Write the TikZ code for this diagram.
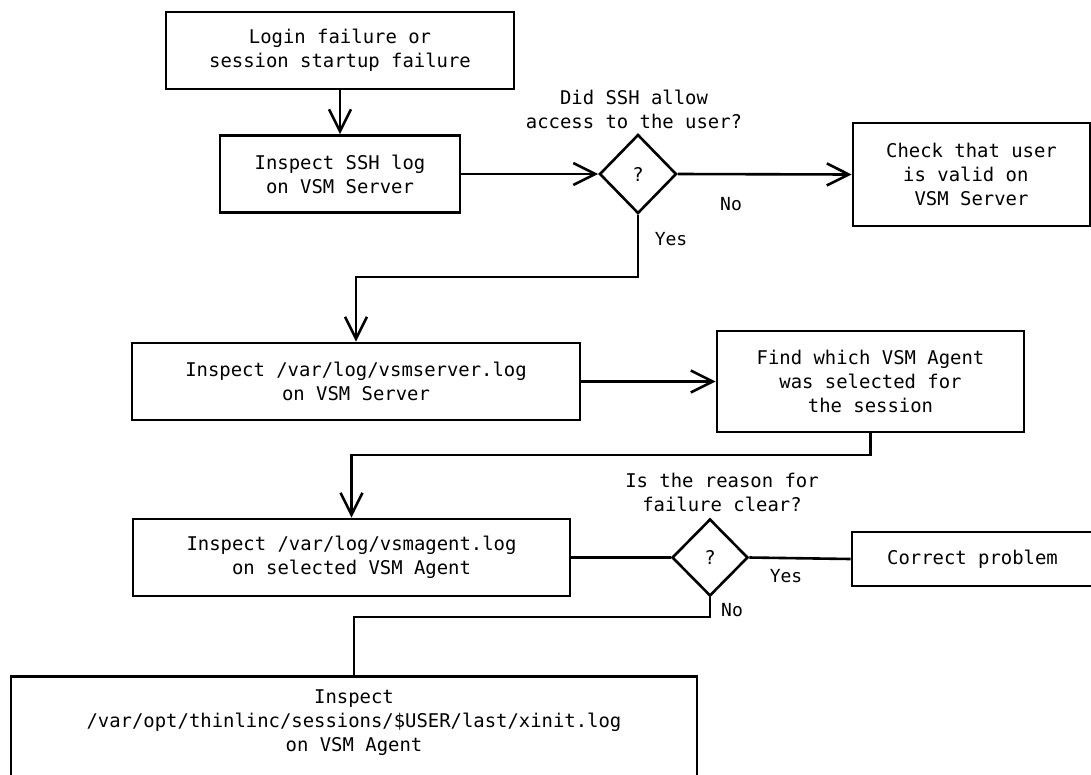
\documentclass[tikz,border=0pt]{standalone}
\usepackage{fontspec}
\setmonofont{DejaVu Sans Mono}
\usetikzlibrary{shapes.geometric,arrows.meta}
\begin{document}
\begin{tikzpicture}[x=1pt,y=-1pt,
  every node/.style={font=\ttfamily\fontsize{18.9}{24}\selectfont},
  box/.style={draw, line width=2.6pt, rectangle, inner sep=0pt, align=center},
  dia/.style={draw, line width=2.6pt, diamond, inner sep=0pt, minimum width=77pt, minimum height=79pt},
  conn/.style={line width=2.6pt},
  arr/.style={conn, -{Straight Barb[length=22pt,width=22pt,line width=2.6pt]}},
  lbl/.style={align=center, inner sep=0pt},
  yn/.style={inner sep=0pt, font=\ttfamily\fontsize{18}{20}\selectfont}]
\useasboundingbox (0,0) rectangle (1091,774);
\fill[white] (0,0) rectangle (1091,774);
\clip (0,0) rectangle (1091,774);

\node[box, minimum width=348pt, minimum height=77pt] (start) at (340,50.5) {Login failure or\\session startup failure};
\node[box, minimum width=240pt, minimum height=77pt] (ssh) at (340,174) {Inspect SSH log\\on VSM Server};
\node[dia] (d1) at (638,174) {?};
\node[box, minimum width=237pt, minimum height=103pt] (user) at (971.5,174.5) {Check that user\\is valid on\hphantom{x}\\VSM Server};
\node[lbl] (q1) at (634,109) {Did SSH allow\\access to the user?};
\node[yn] (no1) at (731,204) {No};
\node[yn] (yes1) at (671,239) {Yes};
\node[box, minimum width=448pt, minimum height=77pt] (srv) at (356,381.5) {Inspect /var/log/vsmserver.log\\on VSM Server};
\node[box, minimum width=307pt, minimum height=101pt] (find) at (870.5,381.5) {Find which VSM Agent\\was selected for\\the session};
\node[box, minimum width=437pt, minimum height=77pt] (agent) at (351.5,557.5) {Inspect /var/log/vsmagent.log\\on selected VSM Agent};
\node[dia, minimum width=76pt, minimum height=77pt] (d2) at (710,557.5) {?};
\node[lbl] (q2) at (722,492) {Is the reason for\\failure clear?};
\node[box, minimum width=241pt, minimum height=54pt] (fix) at (972.5,559) {Correct problem};
\node[yn] (yes2) at (786,576) {Yes};
\node[yn] (no2) at (732,610) {No};
\node[box, minimum width=686pt, minimum height=130pt, anchor=north] (xinit) at (354,675) {};
\node[lbl] (xinittext) at (354,723) {Inspect\\/var/opt/thinlinc/sessions/\$USER/last/xinit.log\\on VSM Agent};

\coordinate (k1) at (638,277);
\coordinate (k2) at (870.5,455);
\coordinate (k3) at (710,617);

\draw[arr] (start.south) -- (ssh.north);
\draw[arr] (ssh.east) -- (d1.west);
\draw[arr] (d1.east) -- (user.west);
\draw[arr] (d1.south) -- (k1) -| (srv.north);
\draw[arr] (srv.east) -- (find.west);
\draw[arr] (find.south) -- (k2) -| (agent.north);
\draw[conn] (agent.east) -- (d2.west);
\draw[conn] (d2.east) -- (fix.west);
\draw[conn] (d2.south) -- (k3) -| (xinit.north);
\end{tikzpicture}
\end{document}
